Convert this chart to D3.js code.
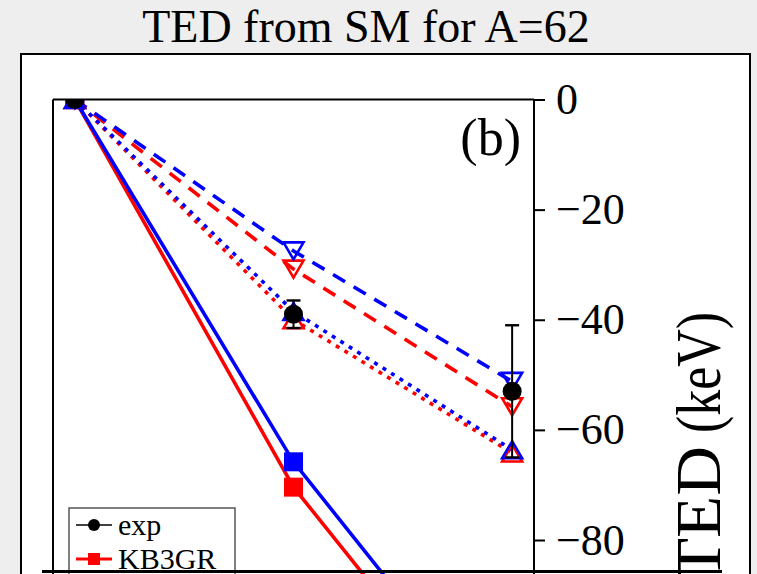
<!DOCTYPE html>
<html>
<head>
<meta charset="utf-8">
<script src="https://cdn.jsdelivr.net/npm/d3@7"></script>
<style>
  html, body { margin: 0; padding: 0; background: #eeeeee; }
  svg { display: block; }
</style>
</head>
<body>
<svg id="chart" width="757" height="574"></svg>
<script>
// Level positions along the horizontal axis
const levels = [0, 1, 2];

// Experimental TED (keV) with uncertainties
const expTED = [0, -39.0, -53.0];
const expErr = [0, 2.5, 12.0];

// Shell-model TED (keV), KB3GR interaction (red) and GXPF1A interaction (blue)
const kb3grSolid  = [0, -70.4, -120.0];
const gxpf1aSolid = [0, -65.8, -115.6];
const kb3grDashed  = [0, -30.8, -55.8];
const gxpf1aDashed = [0, -27.5, -51.2];
const kb3grDotted  = [0, -40.0, -64.2];
const gxpf1aDotted = [0, -38.5, -63.6];

// Axis ticks
const yTicks = [0, -20, -40, -60, -80];

// Legend entries that fit in view
const legendLabels = ["exp", "KB3GR"];

(function draw() {
  const svg = d3.select("#chart");
  const H = 574;
  const serif = "'Liberation Serif', 'Times New Roman', serif";

  // Title
  svg.append("text")
    .attr("x", 366).attr("y", 42)
    .attr("text-anchor", "middle")
    .attr("font-family", serif)
    .attr("font-size", 46)
    .attr("fill", "#000")
    .text("TED from SM for A=62");

  // Figure frame
  svg.append("rect")
    .attr("x", 21).attr("y", 54)
    .attr("width", 729).attr("height", 560)
    .attr("fill", "#fff")
    .attr("stroke", "#000").attr("stroke-width", 2);

  // Plot area
  const pLeft = 53, pRight = 534, pTop = 99.5, pBottom = 600;
  const x = d3.scaleLinear().domain([-0.1, 2.1]).range([pLeft, pRight]);
  const y = d3.scaleLinear().domain([-80, 0]).range([540, pTop]);

  svg.append("defs").append("clipPath").attr("id", "plotClip")
    .append("rect")
    .attr("x", pLeft).attr("y", pTop)
    .attr("width", pRight - pLeft).attr("height", pBottom - pTop);

  const plot = svg.append("g").attr("clip-path", "url(#plotClip)");

  const line = d3.line().x((d, i) => x(levels[i])).y(d => y(d));

  const series = [
    { v: kb3grDotted,  color: "#ff0000", dash: "4,6",   marker: "up" },
    { v: gxpf1aDotted, color: "#0000ff", dash: "4,6",   marker: "up" },
    { v: kb3grDashed,  color: "#ff0000", dash: "14,10", marker: "down" },
    { v: gxpf1aDashed, color: "#0000ff", dash: "14,10", marker: "down" },
    { v: kb3grSolid,   color: "#ff0000", dash: null,    marker: "square" },
    { v: gxpf1aSolid,  color: "#0000ff", dash: null,    marker: "square" }
  ];

  series.forEach(s => {
    plot.append("path")
      .datum(s.v)
      .attr("d", line)
      .attr("fill", "none")
      .attr("stroke", s.color)
      .attr("stroke-width", 3.6)
      .attr("stroke-dasharray", s.dash);
  });

  const triUp = (cx, cy) => `M${cx},${cy - 8.5} L${cx + 10},${cy + 8.5} L${cx - 10},${cy + 8.5} Z`;
  const triDown = (cx, cy) => `M${cx},${cy + 8.5} L${cx + 10},${cy - 8.5} L${cx - 10},${cy - 8.5} Z`;

  series.forEach(s => {
    const g = plot.append("g");
    s.v.forEach((v, i) => {
      const cx = x(levels[i]), cy = y(v);
      if (s.marker === "square") {
        g.append("rect")
          .attr("x", cx - 9.5).attr("y", cy - 9.5)
          .attr("width", 19).attr("height", 19)
          .attr("fill", s.color);
      } else {
        g.append("path")
          .attr("d", s.marker === "up" ? triUp(cx, cy) : triDown(cx, cy))
          .attr("fill", "none")
          .attr("stroke", s.color)
          .attr("stroke-width", 2.6);
      }
    });
  });

  // Experimental points with error bars
  const expG = plot.append("g");
  expTED.forEach((v, i) => {
    const cx = x(levels[i]);
    const e = expErr[i];
    if (e > 0) {
      expG.append("line")
        .attr("x1", cx).attr("x2", cx)
        .attr("y1", y(v + e)).attr("y2", y(v - e))
        .attr("stroke", "#000").attr("stroke-width", 2);
      [v + e, v - e].forEach(c => {
        expG.append("line")
          .attr("x1", cx - 7).attr("x2", cx + 7)
          .attr("y1", y(c)).attr("y2", y(c))
          .attr("stroke", "#000").attr("stroke-width", 2.4);
      });
    }
    expG.append("circle")
      .attr("cx", cx).attr("cy", y(v)).attr("r", 9.5)
      .attr("fill", "#000");
  });

  // Spines
  [[pLeft, pTop, pLeft, H], [pLeft, pTop, pRight, pTop], [pRight, pTop, pRight, H]].forEach(c => {
    svg.append("line")
      .attr("x1", c[0]).attr("y1", c[1]).attr("x2", c[2]).attr("y2", c[3])
      .attr("stroke", "#000").attr("stroke-width", 2);
  });

  // Right-hand y axis
  const yAxis = d3.axisRight(y)
    .tickValues(yTicks)
    .tickSize(11)
    .tickSizeOuter(0)
    .tickPadding(11)
    .tickFormat(d3.format("d"));

  const ax = svg.append("g")
    .attr("transform", `translate(${pRight},0)`)
    .call(yAxis);
  ax.select(".domain").remove();
  ax.selectAll(".tick line").attr("stroke", "#000").attr("stroke-width", 2);
  ax.selectAll(".tick text")
    .attr("font-family", serif)
    .attr("font-size", 44)
    .attr("fill", "#000");

  // Y axis label, reading bottom to top
  const yl = svg.append("text")
    .attr("transform", "translate(720,580) rotate(-90)")
    .attr("text-anchor", "start")
    .attr("font-family", serif)
    .attr("font-size", 64)
    .attr("fill", "#000");
  yl.append("tspan")
    .attr("textLength", 134).attr("lengthAdjust", "spacingAndGlyphs")
    .text("TED");
  yl.append("tspan")
    .attr("textLength", 134).attr("lengthAdjust", "spacingAndGlyphs")
    .text("\u00a0(keV)");

  // Panel tag
  svg.append("text")
    .attr("x", 521).attr("y", 155)
    .attr("text-anchor", "end")
    .attr("font-family", serif)
    .attr("font-size", 52)
    .attr("fill", "#000")
    .text("(b)");

  // Legend
  const lg = svg.append("g");
  lg.append("rect")
    .attr("x", 69).attr("y", 508)
    .attr("width", 166).attr("height", 120)
    .attr("fill", "#fff")
    .attr("stroke", "#555").attr("stroke-width", 1.5);

  const legendStyles = [
    { color: "#000", marker: "circle" },
    { color: "#ff0000", marker: "square" }
  ];
  legendLabels.forEach((label, i) => {
    const ly = 525 + i * 34;
    const st = legendStyles[i];
    lg.append("line")
      .attr("x1", 76).attr("x2", 112).attr("y1", ly).attr("y2", ly)
      .attr("stroke", st.color).attr("stroke-width", st.marker === "circle" ? 1.5 : 3);
    if (st.marker === "circle") {
      lg.append("circle").attr("cx", 94).attr("cy", ly).attr("r", 6).attr("fill", st.color);
    } else {
      lg.append("rect").attr("x", 88).attr("y", ly - 6).attr("width", 12).attr("height", 12).attr("fill", st.color);
    }
    lg.append("text")
      .attr("x", 118).attr("y", ly + 10)
      .attr("font-family", serif)
      .attr("font-size", 30)
      .attr("fill", "#000")
      .text(label);
  });

  // Lower border of the view
  svg.append("line")
    .attr("x1", 42).attr("x2", 722).attr("y1", 571.5).attr("y2", 571.5)
    .attr("stroke", "#000").attr("stroke-width", 3);
})();
</script>
</body>
</html>
